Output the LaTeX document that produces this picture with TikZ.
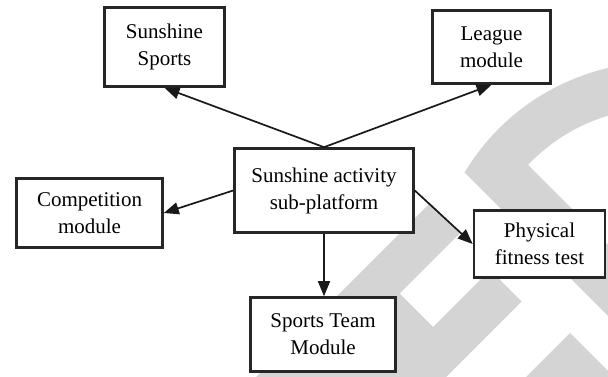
\documentclass[tikz,border=0pt]{standalone}
\usepackage{fontspec}
\setmainfont{Liberation Serif}
\usetikzlibrary{arrows.meta}
\definecolor{wm}{RGB}{212,212,212}
\tikzset{
  box/.style={draw=black!85, line width=2.6pt, fill=white, align=center, inner sep=0pt,
    font=\fontsize{21}{27}\selectfont},
  arr/.style={draw=black!90, line width=1.7pt, -{Triangle[length=15pt,width=12pt]}},
}
\begin{document}
\begin{tikzpicture}[x=1pt,y=-1pt]
\useasboundingbox (0,0) rectangle (608,377);
\fill[white] (0,0) rectangle (608,377);
% watermark
\begin{scope}
\clip (0,0) rectangle (608,377);
\fill[wm] (465,173) -- (720,428) -- (720,357) -- (528,165)
  arc[start angle=223.4, end angle=300, radius=182] -- (774,92.5)
  arc[start angle=300, end angle=211, radius=228] -- cycle;
\fill[wm] (430,203) -- (460,233) -- (399.5,293.5) -- (433,327) -- (490,270)
  -- (521.5,301.5) -- (464.5,358.5) -- (403,420) -- (213,420) -- cycle;
\fill[wm] (570,333) -- (720,483) -- (720,600) -- (303,600) -- cycle;
\end{scope}
% nodes
\node[box, minimum width=120pt, minimum height=79pt] (ss) at (164.5,47) {Sunshine\\Sports};
\node[box, minimum width=118pt, minimum height=73pt] (lm) at (491.5,47) {League\\module};
\node[box, minimum width=146pt, minimum height=69pt] (cm) at (89.5,213) {Competition\\module};
\node[box, minimum width=179pt, minimum height=84pt] (ca) at (324,190.5) {Sunshine activity\\sub-platform};
\node[box, minimum width=131pt, minimum height=67pt] (pf) at (539.5,244) {Physical\\fitness test};
\node[box, minimum width=145pt, minimum height=74pt] (st) at (323,334.5) {Sports Team\\Module};
% connectors
\draw[arr] (ca.north) -- (ss.south);
\draw[arr] (ca.north) -- (lm.south);
\draw[arr] (ca.west) -- (cm.east);
\draw[arr] (ca.east) -- (pf.west);
\draw[arr] (ca.south) -- (ca.south |- st.north);
\end{tikzpicture}
\end{document}
